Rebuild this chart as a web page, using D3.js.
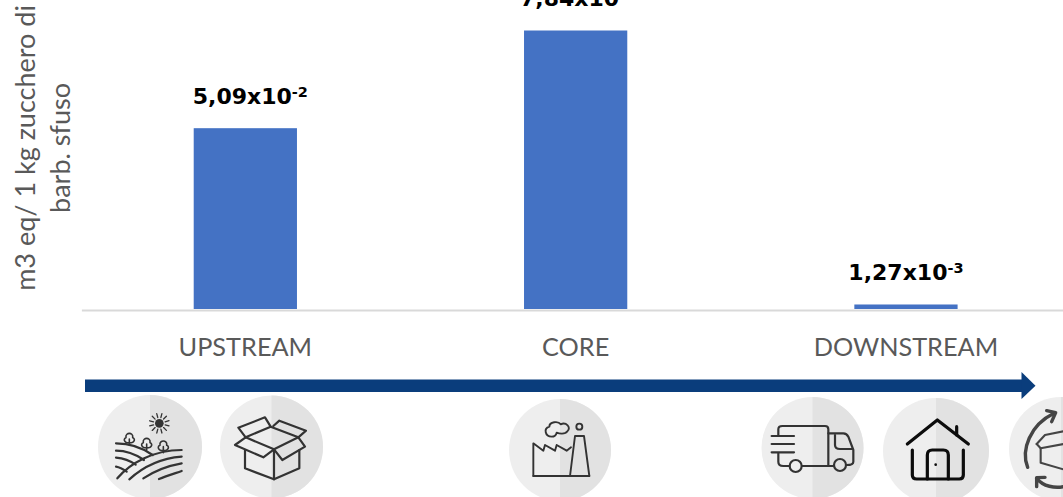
<!DOCTYPE html>
<html><head><meta charset="utf-8">
<script src="https://cdn.jsdelivr.net/npm/d3@7"></script>
<style>html,body{margin:0;padding:0;background:#fff;overflow:hidden}svg{display:block}</style>
</head><body><svg id="c" width="1063" height="497"></svg>
<script>
const categories = ["UPSTREAM", "CORE", "DOWNSTREAM"];
const values = [0.0509, 0.0784, 0.00127];
const mantissas = ["5,09x10", "7,84x10", "1,27x10"];
const exponents = ["-2", "-2", "-3"];
const yTitleLines = ["m3 eq/ 1 kg zucchero di", "barb. sfuso"];
const labelNudge = [5, 2, 0];

const svg = d3.select("#c");
const x = d3.scaleBand().domain(categories).range([81.4, 1069.9]).paddingInner(0.6874).paddingOuter(0.34);
const y = d3.scaleLinear().domain([0, 0.0784]).range([309, 30.5]);

svg.selectAll("rect.bar").data(values).join("rect").attr("class","bar")
  .attr("x",(d,i)=>x(categories[i])).attr("width",x.bandwidth())
  .attr("y",d=>y(d)).attr("height",d=>y(0)-y(d)).attr("fill","#4472c4");

const axis = svg.append("g").attr("transform","translate(0,310)")
  .call(d3.axisBottom(x).tickSize(0).tickPadding(28));
axis.select(".domain").attr("stroke","#d9d9d9").attr("stroke-width",2);
axis.selectAll("text").attr("font-family","Lato").attr("font-size",25.3).attr("fill","#595959");

const lab = svg.selectAll("text.val").data(values).join("text").attr("class","val")
  .attr("x",(d,i)=>x(categories[i])+x.bandwidth()/2+labelNudge[i]).attr("y",d=>y(d)-24.5)
  .attr("text-anchor","middle").attr("font-family","DejaVu Sans").attr("font-weight","bold")
  .attr("font-size",22).attr("fill","#000");
lab.append("tspan").text((d,i)=>mantissas[i]);
lab.append("tspan").attr("dy",-7).attr("font-size",14.5).text((d,i)=>exponents[i]);

svg.selectAll("text.yt").data(yTitleLines).join("text").attr("class","yt")
  .attr("transform",(d,i)=>`translate(${35+i*35},148) rotate(-90)`)
  .attr("text-anchor","middle").attr("font-family","Lato").attr("font-size",27).attr("fill","#595959")
  .text(d=>d);

// process arrow
const arrowColor = "#0a3d7c";
svg.append("rect").attr("x",85).attr("y",379.5).attr("width",938).attr("height",12.5).attr("fill",arrowColor);
svg.append("path").attr("d","M1021.5,372 L1035.5,385.7 L1021.5,399 Z").attr("fill",arrowColor);

// icon discs
const discs = [[150,447,52],[271.5,447,51.5],[560,450,51],[812.5,448,51],[936,451,53],[1061,449,52]];
discs.forEach(([cx,cy,r])=>{
  svg.append("circle").attr("cx",cx).attr("cy",cy).attr("r",r).attr("fill","#eeeeee");
  svg.append("path").attr("d",`M${cx},${cy-r} A${r},${r} 0 0 1 ${cx},${cy+r} Z`).attr("fill","#e2e2e2");
});
function icon(ox,oy,color,w,paths,circles){
  const g = svg.append("g").attr("transform",`translate(${ox},${oy}) scale(${1/3})`)
    .attr("fill","none").attr("stroke",color).attr("stroke-width",w*3)
    .attr("stroke-linecap","round").attr("stroke-linejoin","round");
  paths.forEach(p=>g.append("path").attr("d",p));
  (circles||[]).forEach(([a,b,r,f])=>g.append("circle").attr("cx",a).attr("cy",b).attr("r",r).attr("fill",f?color:"none").attr("stroke",f?"none":color));
  return g;
}
const dark="#333333";
const sunRays = d3.range(12).map(i=>{const a=i*Math.PI/6+0.26,c=Math.cos(a),s=Math.sin(a);
  return `M${238+18*c},${100+18*s} L${238+30*c},${100+30*s}`;});
const plant = (a,b)=>`M${a},${b+20} V${b+2} M${a},${b+14} C${a-18},${b+14} ${a-18},${b} ${a-10},${b-2} C${a-12},${b-12} ${a-4},${b-15} ${a},${b-15} C${a+4},${b-15} ${a+12},${b-12} ${a+10},${b-2} C${a+18},${b} ${a+18},${b+14} ${a},${b+14}`;
icon(80,390,dark,2.2,[
  "M108,160 C150,160 190,175 218,195","M108,182 C140,182 170,195 192,210","M108,203 C130,205 150,212 167,224","M108,230 C120,232 130,238 140,245",
  "M112,265 C150,220 220,180 305,180","M148,268 C190,230 240,205 305,200","M190,265 C220,245 260,228 305,220","M237,267 C260,258 285,250 305,243"
]);
icon(80,390,dark,1.6,[plant(148,145),plant(200,160),plant(250,168)]);
icon(80,390,dark,1.3,sunRays,[[238,100,13,true]]);
icon(80,390,dark,2.2,[
  "M495,180 V235 L582,268 L658,235 V180","M582,178 V268",
  "M465,165 L497,142 L582,178 L550,202 Z","M582,178 L655,142 L675,170 L607,210 Z",
  "M497,142 L475,113 L555,82 L572,110","M580,108 L598,92 L678,122 L655,142","M497,142 L572,110 L655,142"
]);
icon(490,390,dark,1.9,[
  "M130,258 H298","M130,258 V160 L160,182 L165,165 L195,182 L200,165 L230,182 L243,172",
  "M240,258 L255,138 H282 L298,258",
  "M185,140 C165,140 160,115 178,110 C178,95 205,92 212,103 C228,95 245,112 232,124 C225,135 205,130 200,128 C198,136 192,140 185,140 Z"
],[[268,110,9]]);
icon(750,370,dark,2.2,[
  "M85,195 V178 Q85,168 97,168 H225 Q235,168 235,178 V288","M65,198 H132","M65,222 H132","M65,247 H132",
  "M85,250 V275 Q85,288 100,288 H118","M156,288 H250",
  "M235,190 H280 Q290,190 295,200 L310,240 V275 Q310,285 290,285","M255,195 V225 Q255,237 270,237 H305"
],[[137,288,18],[270,285,18]]);
icon(750,370,"#0d0d0d",3.2,[
  "M472,222 L562,150 L655,222","M620,170 V195",
  "M487,240 V315 Q487,327 500,327 H628 Q640,327 640,315 V240",
  "M532,327 V255 Q532,240 547,240 H580 Q595,240 595,255 V327"
],[[557,284,4,true]]);
icon(750,370,"#454545",3.4,[
  "M833,292 C812,240 840,165 912,130","M890,122 L917,128 L905,155",
  "M860,325 C880,350 915,355 940,350","M860,350 L860,323 L885,322"
]);
icon(750,370,"#454545",2.1,[
  "M860,222 L885,195 L945,183","M860,222 L872,235 V278 L940,298","M872,235 L940,222","M945,183 L945,222"
]);
</script></body></html>
